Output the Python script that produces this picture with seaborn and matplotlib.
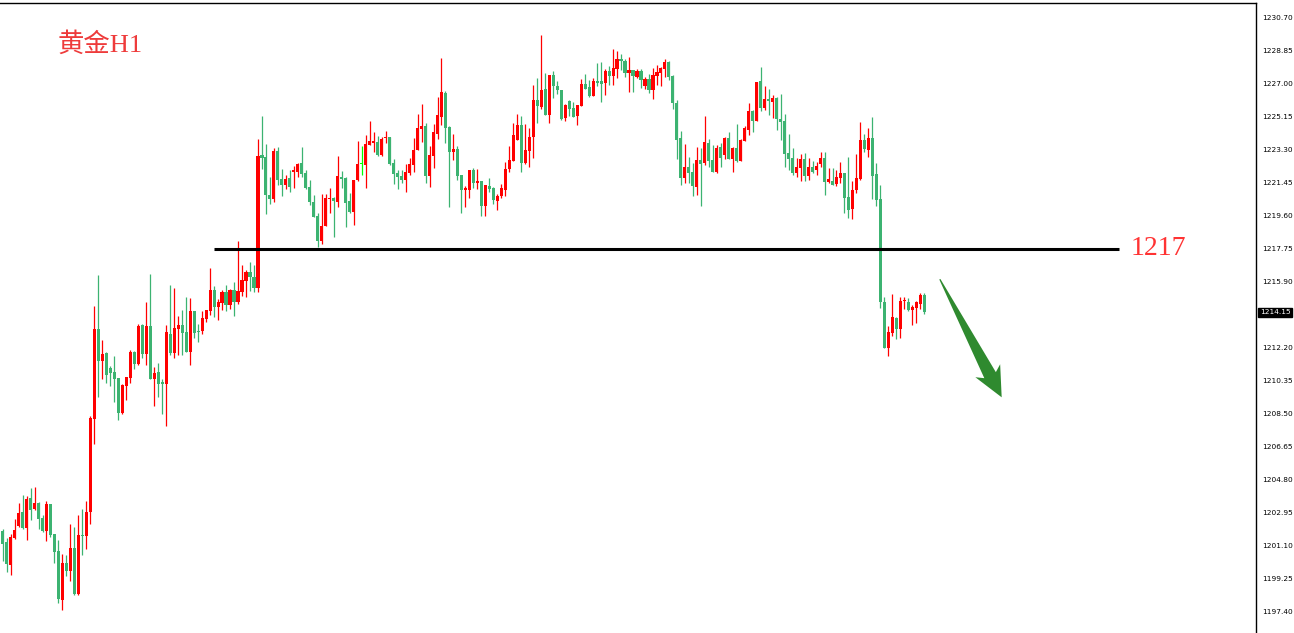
import matplotlib
matplotlib.use("Agg")
import matplotlib.pyplot as plt
import matplotlib.transforms as mtransforms
from matplotlib.patches import Polygon
import seaborn as sns
import numpy as np

# XAUUSD H1 candles (oldest first)
opens = [
    1201.90, 1201.27, 1199.98, 1201.51, 1202.17, 1202.95, 1202.07, 1203.74, 1203.14, 1203.46,
    1202.63, 1201.90, 1203.40, 1201.72, 1200.76, 1198.03, 1200.09, 1199.66, 1200.93, 1198.37,
    1201.66, 1201.62, 1202.97, 1208.18, 1213.21, 1211.44, 1211.85, 1211.02, 1210.78, 1210.46,
    1208.50, 1210.01, 1210.48, 1211.92, 1211.27, 1213.44, 1211.83, 1213.38, 1210.43, 1210.80,
    1210.24, 1210.15, 1212.93, 1211.88, 1213.23, 1213.44, 1213.04, 1211.94, 1214.22, 1213.12,
    1213.10, 1213.77, 1214.22, 1215.40, 1214.46, 1214.65, 1215.29, 1214.56, 1215.40, 1214.72,
    1215.30, 1215.92, 1216.41, 1216.15, 1215.53, 1222.97, 1222.85, 1220.74, 1220.52, 1223.19,
    1221.62, 1221.30, 1221.68, 1222.03, 1222.03, 1222.52, 1221.97, 1221.15, 1220.33, 1219.55,
    1218.16, 1218.99, 1220.52, 1220.56, 1220.35, 1221.73, 1221.68, 1220.39, 1219.79, 1221.56,
    1222.46, 1222.42, 1223.55, 1223.65, 1223.70, 1222.98, 1223.90, 1223.98, 1222.52, 1221.96,
    1221.79, 1221.56, 1221.95, 1222.40, 1223.24, 1224.42, 1224.59, 1221.78, 1222.91, 1224.14,
    1225.09, 1226.44, 1224.53, 1223.13, 1223.30, 1221.84, 1221.00, 1221.00, 1222.12, 1221.39,
    1221.50, 1220.10, 1221.22, 1221.11, 1220.38, 1220.66, 1221.00, 1222.18, 1222.62, 1223.80,
    1224.64, 1222.51, 1223.19, 1223.97, 1226.04, 1225.65, 1226.66, 1225.20, 1227.45, 1226.83,
    1226.61, 1225.04, 1225.99, 1225.60, 1225.15, 1225.71, 1226.94, 1226.77, 1226.27, 1227.11,
    1227.11, 1227.00, 1227.67, 1227.39, 1227.78, 1228.34, 1228.23, 1227.56, 1227.73, 1227.34,
    1227.67, 1226.83, 1227.22, 1226.61, 1227.39, 1227.56, 1227.78, 1228.18, 1227.39, 1225.88,
    1223.91, 1221.67, 1222.29, 1222.01, 1221.17, 1222.68, 1222.51, 1223.64, 1222.68, 1222.01,
    1223.41, 1222.96, 1223.91, 1222.74, 1223.36, 1222.63, 1223.75, 1224.37, 1225.43, 1224.87,
    1227.11, 1225.60, 1226.10, 1225.94, 1226.16, 1224.98, 1224.87, 1223.08, 1222.79, 1221.95,
    1222.26, 1222.74, 1221.81, 1222.29, 1222.12, 1222.46, 1222.80, 1221.45, 1221.51, 1221.34,
    1221.68, 1221.96, 1220.61, 1219.94, 1221.00, 1221.62, 1223.81, 1223.25, 1223.92, 1221.90,
    1220.50, 1214.72, 1212.16, 1213.00, 1213.83, 1213.21, 1214.76, 1214.72, 1214.28, 1214.38,
    1214.61, 1215.12,
]
highs = [
    1201.98, 1201.49, 1201.72, 1202.56, 1203.46, 1203.90, 1203.83, 1204.30, 1204.35, 1203.53,
    1202.78, 1203.57, 1203.40, 1201.72, 1201.38, 1200.60, 1200.54, 1202.28, 1202.13, 1202.78,
    1203.12, 1203.57, 1208.33, 1214.50, 1216.22, 1212.59, 1211.92, 1211.14, 1211.68, 1210.46,
    1210.13, 1210.52, 1212.03, 1212.00, 1213.49, 1213.49, 1214.73, 1216.30, 1211.08, 1211.30,
    1210.41, 1213.44, 1215.68, 1215.51, 1213.94, 1214.28, 1215.01, 1214.95, 1214.22, 1213.49,
    1214.22, 1214.28, 1216.63, 1215.62, 1214.89, 1215.40, 1215.68, 1215.45, 1215.85, 1218.14,
    1216.80, 1216.52, 1216.97, 1216.80, 1223.86, 1225.15, 1223.60, 1221.73, 1223.36, 1223.42,
    1222.18, 1221.85, 1222.13, 1222.37, 1222.52, 1223.41, 1222.13, 1221.56, 1220.72, 1219.71,
    1220.78, 1220.78, 1221.12, 1220.61, 1222.91, 1222.07, 1221.73, 1220.84, 1221.56, 1223.75,
    1223.47, 1224.09, 1224.87, 1224.26, 1224.03, 1223.98, 1224.31, 1223.98, 1222.76, 1222.13,
    1222.12, 1222.46, 1222.79, 1223.92, 1225.26, 1225.82, 1224.76, 1223.47, 1224.70, 1226.21,
    1228.40, 1226.55, 1224.59, 1224.14, 1223.47, 1221.84, 1221.22, 1222.12, 1222.23, 1222.18,
    1221.50, 1221.28, 1221.67, 1221.17, 1220.78, 1221.34, 1222.57, 1223.47, 1224.76, 1225.26,
    1225.15, 1224.70, 1224.48, 1226.89, 1227.28, 1229.69, 1227.56, 1227.45, 1227.67, 1227.11,
    1226.61, 1225.82, 1226.05, 1225.93, 1225.76, 1227.22, 1227.50, 1227.17, 1227.28, 1228.12,
    1228.18, 1227.78, 1227.95, 1228.91, 1228.79, 1228.62, 1228.34, 1228.46, 1227.73, 1227.78,
    1227.78, 1227.34, 1227.50, 1227.84, 1228.01, 1227.90, 1228.34, 1228.23, 1227.45, 1226.05,
    1224.31, 1223.58, 1222.85, 1222.51, 1223.41, 1223.36, 1225.15, 1223.86, 1223.52, 1223.52,
    1223.64, 1223.97, 1224.25, 1223.41, 1224.70, 1223.86, 1224.59, 1225.88, 1225.49, 1227.06,
    1227.90, 1226.83, 1226.66, 1226.33, 1226.21, 1226.38, 1225.26, 1224.14, 1223.36, 1222.79,
    1223.02, 1223.08, 1222.80, 1222.63, 1222.57, 1223.14, 1223.14, 1222.24, 1222.24, 1222.12,
    1222.57, 1221.96, 1222.85, 1221.51, 1223.02, 1224.82, 1224.14, 1224.48, 1225.10, 1222.52,
    1221.28, 1215.00, 1213.38, 1215.17, 1213.88, 1215.00, 1215.00, 1214.95, 1214.56, 1214.78,
    1215.23, 1215.23,
]
lows = [
    1200.22, 1199.59, 1199.42, 1201.46, 1202.13, 1202.00, 1201.40, 1202.52, 1203.08, 1202.00,
    1201.85, 1201.34, 1201.57, 1200.11, 1197.87, 1197.47, 1199.38, 1199.10, 1198.32, 1198.32,
    1200.56, 1200.89, 1202.30, 1206.78, 1209.38, 1210.43, 1210.20, 1210.03, 1209.14, 1208.13,
    1208.46, 1209.25, 1210.20, 1210.99, 1211.21, 1211.60, 1211.21, 1210.43, 1208.91, 1209.42,
    1208.46, 1207.79, 1211.77, 1211.60, 1211.77, 1211.77, 1211.94, 1211.21, 1212.73, 1212.50,
    1212.95, 1213.60, 1214.00, 1213.90, 1213.72, 1214.28, 1214.22, 1214.33, 1213.96, 1214.63,
    1215.08, 1215.02, 1215.34, 1215.30, 1215.30, 1222.20, 1219.68, 1220.24, 1220.35, 1221.30,
    1220.69, 1221.08, 1220.91, 1221.14, 1221.75, 1221.75, 1221.08, 1220.18, 1219.51, 1217.83,
    1217.99, 1218.99, 1219.73, 1218.39, 1220.07, 1221.13, 1218.95, 1219.73, 1219.06, 1221.53,
    1221.86, 1221.13, 1223.53, 1223.15, 1222.93, 1222.93, 1223.66, 1222.42, 1221.36, 1221.08,
    1221.41, 1220.89, 1221.84, 1222.01, 1223.24, 1223.69, 1221.39, 1221.17, 1222.23, 1223.86,
    1224.64, 1223.64, 1220.07, 1222.68, 1221.56, 1219.71, 1220.05, 1220.55, 1221.11, 1221.06,
    1219.54, 1219.54, 1220.89, 1220.22, 1219.88, 1220.55, 1220.66, 1222.01, 1222.62, 1223.80,
    1222.01, 1222.46, 1222.29, 1222.79, 1224.76, 1225.54, 1225.20, 1224.76, 1226.16, 1226.38,
    1224.92, 1224.87, 1225.15, 1225.09, 1224.64, 1225.71, 1226.66, 1226.21, 1226.27, 1226.83,
    1225.93, 1226.33, 1226.89, 1226.89, 1227.28, 1227.73, 1227.34, 1226.49, 1226.49, 1227.28,
    1226.72, 1226.66, 1226.44, 1226.10, 1226.89, 1226.83, 1227.34, 1227.17, 1225.54, 1222.74,
    1221.28, 1221.39, 1221.39, 1220.66, 1220.72, 1220.10, 1222.40, 1222.29, 1222.01, 1221.95,
    1222.29, 1222.74, 1222.74, 1222.01, 1222.57, 1222.63, 1223.75, 1224.09, 1224.25, 1224.87,
    1225.43, 1225.49, 1225.21, 1225.04, 1224.37, 1223.80, 1222.29, 1222.12, 1221.84, 1221.73,
    1221.53, 1221.53, 1221.56, 1221.98, 1221.85, 1222.29, 1220.72, 1221.40, 1221.30, 1221.23,
    1221.40, 1219.73, 1219.43, 1219.38, 1220.84, 1221.56, 1223.14, 1222.85, 1220.50, 1220.11,
    1214.41, 1212.16, 1211.72, 1212.84, 1212.67, 1212.73, 1214.35, 1214.22, 1213.45, 1213.56,
    1214.33, 1214.07,
]
closes = [
    1201.16, 1200.03, 1201.57, 1201.94, 1202.88, 1202.07, 1203.68, 1203.08, 1203.46, 1202.56,
    1201.90, 1203.40, 1201.68, 1200.73, 1198.09, 1200.09, 1199.66, 1200.93, 1198.37, 1201.66,
    1201.62, 1202.95, 1208.22, 1213.21, 1211.44, 1211.81, 1210.65, 1210.76, 1210.43, 1208.52,
    1210.07, 1210.52, 1211.92, 1211.27, 1213.38, 1211.83, 1213.38, 1210.43, 1210.74, 1210.15,
    1210.15, 1213.04, 1211.88, 1213.27, 1213.44, 1213.01, 1211.94, 1214.22, 1213.01, 1213.04,
    1213.85, 1214.28, 1215.40, 1214.46, 1214.72, 1215.29, 1214.56, 1215.40, 1214.72, 1215.34,
    1215.96, 1216.41, 1216.15, 1215.53, 1222.91, 1222.82, 1220.74, 1220.52, 1223.19, 1221.58,
    1221.30, 1221.62, 1221.19, 1222.14, 1222.48, 1221.92, 1221.13, 1220.35, 1219.51, 1218.16,
    1218.99, 1220.56, 1220.58, 1220.41, 1221.79, 1221.64, 1220.29, 1219.79, 1221.56, 1222.46,
    1222.46, 1223.58, 1223.75, 1223.75, 1222.98, 1223.86, 1223.94, 1222.48, 1221.92, 1221.75,
    1221.56, 1222.01, 1222.46, 1223.24, 1224.48, 1224.59, 1221.78, 1222.96, 1224.25, 1225.21,
    1226.49, 1224.48, 1223.13, 1223.30, 1221.78, 1221.00, 1221.11, 1222.12, 1221.39, 1221.50,
    1220.10, 1221.28, 1221.06, 1220.44, 1220.66, 1221.11, 1222.18, 1222.68, 1224.08, 1224.64,
    1222.51, 1223.24, 1223.97, 1226.04, 1225.71, 1226.61, 1225.20, 1227.45, 1226.83, 1226.61,
    1224.98, 1225.76, 1225.54, 1225.09, 1225.76, 1226.94, 1226.66, 1226.27, 1227.11, 1227.00,
    1226.94, 1227.67, 1227.39, 1227.84, 1228.34, 1228.23, 1227.56, 1227.73, 1227.39, 1227.67,
    1227.17, 1227.22, 1226.61, 1227.45, 1227.62, 1227.84, 1228.18, 1227.34, 1225.88, 1223.80,
    1221.67, 1222.29, 1221.95, 1221.22, 1222.68, 1222.46, 1223.69, 1222.63, 1222.01, 1223.36,
    1222.79, 1223.91, 1222.74, 1223.36, 1222.63, 1223.80, 1224.48, 1225.43, 1224.87, 1227.06,
    1225.60, 1226.10, 1225.99, 1226.16, 1224.98, 1224.81, 1223.02, 1222.74, 1221.95, 1222.29,
    1222.74, 1221.81, 1222.29, 1222.03, 1222.35, 1222.80, 1221.45, 1221.62, 1221.30, 1221.73,
    1221.96, 1220.56, 1219.88, 1221.00, 1221.68, 1223.81, 1223.30, 1223.92, 1221.79, 1220.44,
    1214.72, 1212.16, 1213.04, 1213.88, 1213.21, 1214.78, 1214.80, 1214.28, 1214.45, 1214.72,
    1215.12, 1214.16,
]

price_ticks = [1230.70, 1228.85, 1227.00, 1225.15, 1223.30, 1221.45, 1219.60, 1217.75,
               1215.90, 1214.05, 1212.20, 1210.35, 1208.50, 1206.65, 1204.80, 1202.95,
               1201.10, 1199.25, 1197.40]
current_price = 1214.15
support_level = 1217.7
support_label = "1217"
title = "黄金H1"

UP = "#ff0000"
DOWN = "#3cb371"
DOJI = "#00ff00"

sns.set_style("white")
plt.rcParams["font.family"] = ["DejaVu Sans", "Noto Sans CJK SC"]

o = np.array(opens)
h = np.array(highs)
l = np.array(lows)
c = np.array(closes)
idx = np.arange(len(o))
colors = np.where(c > o, UP, np.where(c < o, DOWN, DOJI))

fig = plt.figure(figsize=(12.94, 6.33), dpi=100)
ax = fig.add_axes([0, 0, 1256 / 1294, 630 / 633])
ax.set_xlim(-0.652, 314.14)
ax.set_ylim(1196.167, 1231.485)

# wicks then bodies
ax.vlines(idx, l, h, colors=colors, linewidth=0.9)
body_lo = np.minimum(o, c)
body_h = np.maximum(np.abs(c - o), 0.06)
ax.bar(idx, body_h, bottom=body_lo, width=0.78, color=colors, linewidth=0)

# support line + label
ax.hlines(support_level, 53.1, 279.9, color="black", linewidth=2.2, zorder=4)
ax.text(282.6, support_level, support_label, color="#ff3333", fontsize=20,
        family=["Liberation Serif"], ha="left", va="center")

# tapered down arrow, shaped in screen pixels
start = ax.transData.transform((234.9, 1216.0))
tip = ax.transData.transform((250.4, 1209.38))
u = (tip - start) / np.hypot(*(tip - start))
p = np.array([-u[1], u[0]])
neck = tip - u * 25
shape = [start + p * 0.6, neck + p * 6.5, neck + p * 14 - u * 5, tip,
         neck - p * 14 - u * 5, neck - p * 6.5, start - p * 0.6]
shape = ax.transData.inverted().transform(np.array(shape))
ax.add_patch(Polygon(shape, closed=True, facecolor="#2f8a2f", edgecolor="none", zorder=5))

# price scale on the right
ax.yaxis.tick_right()
ax.set_yticks(price_ticks)
ax.set_yticklabels([f"{v:.2f}" if abs(v - 1214.05) > 0.01 else "" for v in price_ticks])
ax.tick_params(axis="y", which="major", right=True, length=3.5, width=0.8,
               pad=1.2, labelsize=5.3, colors="black")
ax.set_xticks([])
sns.despine(ax=ax, left=True, bottom=True, right=False, top=False)
for side in ("right", "top"):
    ax.spines[side].set_color("black")
    ax.spines[side].set_linewidth(1.0)

tr = mtransforms.blended_transform_factory(ax.transAxes, ax.transData)
ax.text(1.003, current_price, f"{current_price:.2f}", transform=tr, color="white",
        fontsize=5.3, ha="left", va="center", clip_on=False, zorder=6,
        bbox=dict(facecolor="black", edgecolor="black", pad=1.2))

fig.text(0.0448, 0.930, title, color="#ee3b3b", fontsize=19,
         family=["Liberation Serif", "Noto Sans CJK SC"], ha="left", va="center")

fig.savefig("out.png", dpi=100)
